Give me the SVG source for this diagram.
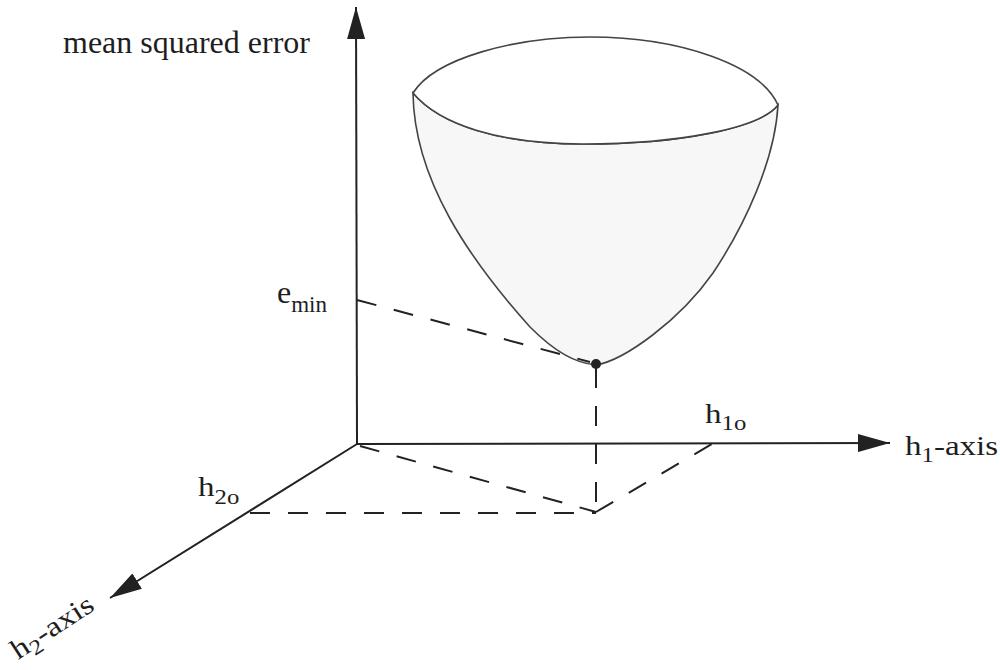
<svg xmlns="http://www.w3.org/2000/svg" width="1000" height="670" viewBox="0 0 1000 670">
<style>
  text { font-family: "Liberation Serif", "Times New Roman", serif; fill: #1e1e1e; }
  .axis { stroke: #222; stroke-width: 2; fill: none; }
  .dash { stroke: #222; stroke-width: 2; fill: none; stroke-dasharray: 20 18; }
  .bowl { stroke: #444; stroke-width: 1.6; }
  .lbl { font-size: 28px; }
  .sub { font-size: 21px; }
</style>
<defs>
  <marker id="arrow" markerUnits="userSpaceOnUse" viewBox="0 0 32 18" refX="32" refY="9" markerWidth="32" markerHeight="18" orient="auto">
    <path d="M0,0 L32,9 L0,18 Z" fill="#222"/>
  </marker>
</defs>
<rect width="1000" height="670" fill="#fff"/>

<g id="bowl">
  <path class="bowl" fill="#f7f7f7" d="M413,93 C414,180 470,260 530,327 C555,352 575,363 596,365 C625,360 680,320 713,273 C745,225 775,160 778,105 C760,128 680,144 583,144 C500,144 440,125 413,93 Z"/>
  <path class="bowl" fill="#fff" d="M413,93 C435,58 515,37 590,37 C680,37 760,65 778,105 C760,128 680,144 583,144 C500,144 440,125 413,93 Z"/>
</g>

<g id="connectors">
  <line class="axis" x1="357" y1="444" x2="356" y2="7" marker-end="url(#arrow)"/>
  <line class="axis" x1="357" y1="444" x2="890" y2="443" marker-end="url(#arrow)"/>
  <line class="axis" x1="357" y1="444" x2="110" y2="598" marker-end="url(#arrow)"/>
  <line class="dash" x1="357" y1="300" x2="590" y2="362"/>
  <line class="dash" x1="596" y1="368" x2="596" y2="512"/>
  <line class="dash" x1="360" y1="446" x2="596" y2="512"/>
  <line class="dash" x1="250" y1="513" x2="596" y2="513"/>
  <line class="dash" x1="596" y1="512" x2="712" y2="444"/>
</g>

<g id="minimum">
  <circle cx="596" cy="364" r="5" fill="#222"/>
</g>

<g id="labels">
  <text x="63" y="53" font-size="32">mean squared error</text>
  <text x="277" y="303" font-size="32">e<tspan dy="9" font-size="23">min</tspan></text>
  <text class="lbl" transform="translate(705,423) scale(1.18,1)">h<tspan class="sub" dy="7">1o</tspan></text>
  <text class="lbl" transform="translate(198,496) scale(1.18,1)">h<tspan class="sub" dy="8">2o</tspan></text>
  <text class="lbl" transform="translate(905,455) scale(1.18,1)">h<tspan class="sub" dy="7">1</tspan><tspan dy="-7">-axis</tspan></text>
  <text class="lbl" transform="translate(18,660) rotate(-33) scale(1.18,1)">h<tspan class="sub" dy="6">2</tspan><tspan dy="-6">-axis</tspan></text>
</g>
</svg>
